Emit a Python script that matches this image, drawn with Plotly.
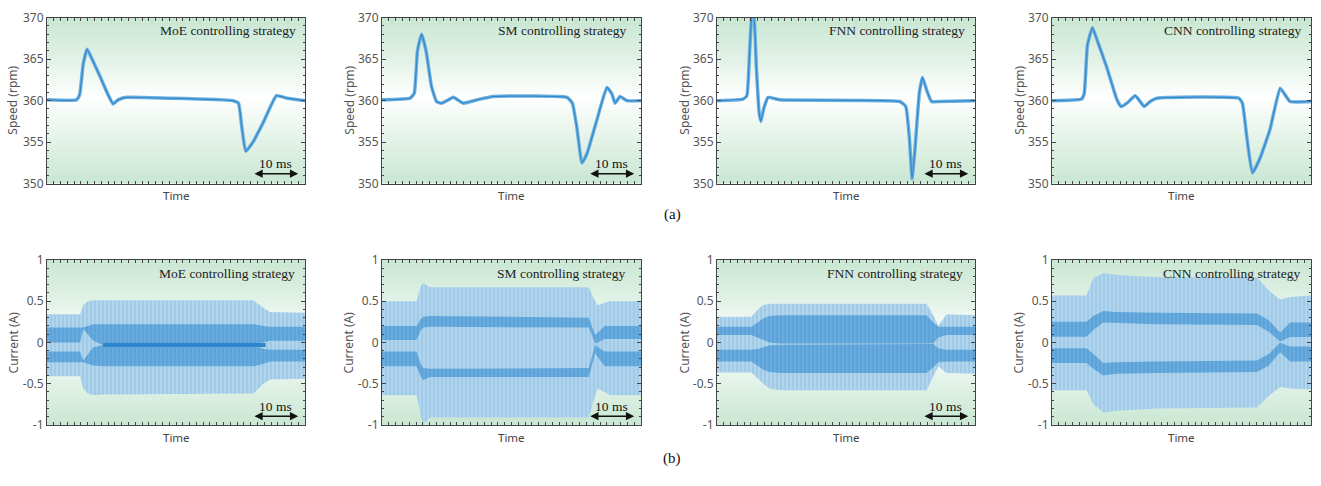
import plotly.graph_objects as go

W, H = 1321, 486
T_END = 57.0

strategies = ["MoE", "SM", "FNN", "CNN"]

# ---------------- Speed (rpm) data ----------------
moe_speed_t = [0, 6.5, 7.2, 8.0, 8.85, 9.8, 11.65, 13.5, 14.6, 15.7, 17.5, 26.4, 41.1, 42.3, 43.0, 43.9, 45.6, 47.8, 50.7, 53.0, 57]
moe_speed_v = [360.1, 360.1, 360.7, 364.4, 366.2, 365.2, 363.0, 360.7, 359.6, 360.1, 360.4, 360.3, 360.0, 359.7, 357.0, 353.9, 355.1, 357.4, 360.6, 360.3, 360.0]

sm_speed_t = [0, 6.2, 7.1, 7.8, 8.7, 9.7, 10.9, 12.0, 13.1, 14.6, 15.7, 17.9, 20.9, 24.5, 40.7, 41.9, 42.9, 44.0, 45.1, 47.3, 49.5, 50.6, 51.3, 52.4, 53.9, 57]
sm_speed_v = [360.1, 360.3, 360.9, 366.0, 368.0, 366.0, 361.7, 359.9, 359.7, 360.1, 360.4, 359.7, 360.1, 360.5, 360.4, 359.7, 356.7, 352.5, 353.6, 357.7, 361.6, 360.8, 359.7, 360.5, 360.0, 360.0]

fnn_speed_t = [0, 5.75, 6.6, 7.2, 7.7, 8.1, 8.7, 9.3, 9.7, 10.3, 11.3, 13.9, 40.4, 41.7, 42.5, 43.1, 43.7, 44.7, 45.4, 46.3, 47.4, 49.3, 57]
fnn_speed_v = [360.0, 360.2, 360.6, 365.9, 370.2, 370.5, 364.0, 358.6, 357.5, 359.0, 360.4, 360.1, 359.9, 359.3, 355.5, 350.6, 353.9, 360.9, 362.8, 361.3, 359.9, 359.9, 360.0]

cnn_speed_t = [0, 6.5, 7.1, 7.8, 8.9, 9.8, 12.0, 14.3, 15.2, 16.5, 18.3, 19.4, 20.3, 21.6, 23.1, 41.1, 41.9, 42.9, 44.1, 45.8, 48.0, 50.2, 51.3, 52.4, 57]
cnn_speed_v = [360.0, 360.2, 360.9, 366.7, 368.8, 367.5, 364.1, 360.1, 359.3, 359.7, 360.6, 359.9, 359.3, 359.9, 360.3, 360.3, 359.7, 355.5, 351.3, 353.1, 356.6, 361.5, 360.7, 359.9, 359.9]

speed_t = [moe_speed_t, sm_speed_t, fnn_speed_t, cnn_speed_t]
speed_v = [moe_speed_v, sm_speed_v, fnn_speed_v, cnn_speed_v]

# ---------------- Current (A) envelopes ----------------
moe_cur_t = [0, 7.3, 8.0, 9.0, 10.2, 12.4, 45.6, 47.8, 49.3, 57]
moe_outer_hi = [0.34, 0.34, 0.45, 0.50, 0.51, 0.51, 0.51, 0.42, 0.37, 0.36]
moe_outer_lo = [-0.41, -0.41, -0.56, -0.62, -0.64, -0.63, -0.62, -0.50, -0.45, -0.44]
moe_band_hi = [0.18, 0.18, 0.18, 0.20, 0.22, 0.22, 0.22, 0.20, 0.19, 0.19]
moe_gap_hi = [0.0, 0.0, 0.16, 0.10, 0.02, -0.03, -0.03, 0.0, 0.02, 0.02]
moe_gap_lo = [-0.11, -0.11, -0.22, -0.15, -0.06, -0.03, -0.03, -0.08, -0.09, -0.09]
moe_band_lo = [-0.24, -0.24, -0.24, -0.26, -0.28, -0.29, -0.29, -0.26, -0.23, -0.23]

sm_cur_t = [0, 7.6, 8.5, 9.1, 10.5, 45.5, 46.9, 47.5, 49.0, 50.2, 57]
sm_outer_hi = [0.50, 0.50, 0.68, 0.72, 0.67, 0.67, 0.50, 0.45, 0.48, 0.50, 0.50]
sm_outer_lo = [-0.64, -0.64, -0.88, -0.99, -0.91, -0.91, -0.65, -0.56, -0.60, -0.64, -0.64]
sm_band_hi = [0.20, 0.20, 0.28, 0.31, 0.32, 0.30, 0.09, 0.12, 0.20, 0.20, 0.20]
sm_gap_hi = [0.03, 0.03, 0.14, 0.18, 0.19, 0.18, -0.01, 0.0, 0.04, 0.04, 0.04]
sm_gap_lo = [-0.11, -0.11, -0.26, -0.31, -0.32, -0.31, -0.03, -0.05, -0.11, -0.11, -0.11]
sm_band_lo = [-0.29, -0.29, -0.41, -0.46, -0.42, -0.42, -0.13, -0.18, -0.29, -0.29, -0.29]

fnn_cur_t = [0, 7.6, 9.0, 10.2, 11.6, 13.9, 46.3, 47.8, 48.9, 50.7, 57]
fnn_outer_hi = [0.31, 0.31, 0.40, 0.455, 0.47, 0.47, 0.47, 0.33, 0.20, 0.34, 0.33]
fnn_outer_lo = [-0.365, -0.365, -0.44, -0.50, -0.56, -0.58, -0.58, -0.42, -0.29, -0.37, -0.38]
fnn_band_hi = [0.19, 0.19, 0.24, 0.29, 0.32, 0.33, 0.33, 0.24, 0.19, 0.19, 0.19]
fnn_gap_hi = [0.09, 0.09, 0.06, 0.03, 0.0, -0.012, -0.012, -0.01, 0.06, 0.09, 0.09]
fnn_gap_lo = [-0.09, -0.09, -0.08, -0.06, -0.035, -0.028, -0.028, -0.02, -0.07, -0.09, -0.09]
fnn_band_lo = [-0.23, -0.23, -0.28, -0.33, -0.36, -0.37, -0.37, -0.30, -0.24, -0.23, -0.23]

cnn_cur_t = [0, 7.6, 9.1, 11.3, 14, 23, 45.1, 47.7, 50.2, 52.4, 57]
cnn_outer_hi = [0.57, 0.57, 0.78, 0.84, 0.82, 0.79, 0.79, 0.63, 0.52, 0.55, 0.57]
cnn_outer_lo = [-0.58, -0.58, -0.75, -0.85, -0.83, -0.80, -0.79, -0.65, -0.54, -0.56, -0.57]
cnn_band_hi = [0.25, 0.25, 0.32, 0.38, 0.37, 0.36, 0.35, 0.27, 0.12, 0.24, 0.24]
cnn_gap_hi = [0.07, 0.07, 0.15, 0.24, 0.23, 0.22, 0.21, 0.13, 0.01, 0.065, 0.065]
cnn_gap_lo = [-0.07, -0.07, -0.14, -0.25, -0.24, -0.23, -0.22, -0.14, -0.005, -0.05, -0.05]
cnn_band_lo = [-0.25, -0.25, -0.32, -0.40, -0.38, -0.37, -0.36, -0.28, -0.12, -0.23, -0.23]

# MoE dark centre line (steady load region)
moe_center_t = [12.4, 46.5, 48.3]
moe_center_v = [-0.03, -0.03, -0.03]

cur_t = [moe_cur_t, sm_cur_t, fnn_cur_t, cnn_cur_t]
cur_outer_hi = [moe_outer_hi, sm_outer_hi, fnn_outer_hi, cnn_outer_hi]
cur_outer_lo = [moe_outer_lo, sm_outer_lo, fnn_outer_lo, cnn_outer_lo]
cur_band_hi = [moe_band_hi, sm_band_hi, fnn_band_hi, cnn_band_hi]
cur_gap_hi = [moe_gap_hi, sm_gap_hi, fnn_gap_hi, cnn_gap_hi]
cur_gap_lo = [moe_gap_lo, sm_gap_lo, fnn_gap_lo, cnn_gap_lo]
cur_band_lo = [moe_band_lo, sm_band_lo, fnn_band_lo, cnn_band_lo]

speed_ticks = [350, 355, 360, 365, 370]
current_ticks = [-1, -0.5, 0, 0.5, 1]
current_ticktext = ["-1", "-0.5", "0", "0.5", "1"]

# scale bar (10 ms)
bar_start, bar_end = 45.5, 55.5

# ---------------- layout geometry (pixels) ----------------
col_px = [(47, 305), (382, 641), (717, 975), (1052, 1311)]
row_px = [(9, 181), (260, 431)]
ytitle_px = [[13, 350, 685, 1020], [13, 348, 684, 1018]]
label_x = [[0.973, 0.95, 0.969, 0.969], [0.969, 0.946, 0.961, 0.965]]

BG_GREEN = "#c9e7d3"
LINE_DARK = "#3189cc"
LINE_LIGHT = "#6fb0e0"
AX = "#444444"
TICKFONT = dict(family="Noto Sans", size=12, color="#555555")
SERIF = "Liberation Serif"

fig = go.Figure()
layout = dict(width=W, height=H, margin=dict(l=0, r=0, t=0, b=0),
              paper_bgcolor="white", plot_bgcolor="white", showlegend=False)
annotations = []

bg_scale = [[0, "#ffffff"], [0.35, "#edf7f0"], [1, BG_GREEN]]

for r in range(2):
    for c in range(4):
        k = r * 4 + c + 1
        xa = "x" if k == 1 else f"x{k}"
        ya = "y" if k == 1 else f"y{k}"
        xl = "xaxis" if k == 1 else f"xaxis{k}"
        yl = "yaxis" if k == 1 else f"yaxis{k}"
        x0, x1 = col_px[c]
        y0, y1 = row_px[r]
        xdom = [x0 / W, x1 / W]
        ydom = [1 - y1 / H, 1 - y0 / H]

        if r == 0:
            yr = [350, 370]
            bg_y = [350, 355, 360.5, 365, 370]
            ytv, ytt = speed_ticks, [str(v) for v in speed_ticks]
            minor_dt = 1
            ytitle = "Speed (rpm)"
        else:
            yr = [-1, 1]
            bg_y = [-1, -0.5, 0.05, 0.5, 1]
            ytv, ytt = current_ticks, current_ticktext
            minor_dt = 0.1
            ytitle = "Current (A)"

        # gradient background
        fig.add_trace(go.Heatmap(x=[0, T_END], y=bg_y,
                                 z=[[1, 1], [0.55, 0.55], [0, 0], [0.55, 0.55], [1, 1]],
                                 zmin=0, zmax=1, colorscale=bg_scale, zsmooth="best",
                                 showscale=False, hoverinfo="skip", xaxis=xa, yaxis=ya))

        if r == 0:
            t, v = speed_t[c], speed_v[c]
            fig.add_trace(go.Scatter(x=t, y=v, mode="lines",
                                     line=dict(color=LINE_LIGHT, width=3.5, shape="spline", smoothing=0.4),
                                     hoverinfo="skip", xaxis=xa, yaxis=ya))
            fig.add_trace(go.Scatter(x=t, y=v, mode="lines",
                                     line=dict(color=LINE_DARK, width=1.2, shape="spline", smoothing=0.4),
                                     xaxis=xa, yaxis=ya))
        else:
            t = cur_t[c]
            rev = t[::-1]
            fig.add_trace(go.Scatter(
                x=t + rev, y=cur_outer_hi[c] + cur_outer_lo[c][::-1], mode="lines",
                fill="toself", line=dict(width=0, color="#a3cde9"), fillcolor="#a3cde9",
                fillpattern=dict(shape="|", size=4, solidity=0.35, fgcolor="#d2e8f5", bgcolor="#a0cbe8"),
                hoverinfo="skip", xaxis=xa, yaxis=ya))
            fig.add_trace(go.Scatter(
                x=t + rev, y=cur_band_hi[c] + cur_gap_hi[c][::-1], mode="lines",
                fill="toself", line=dict(width=0, color="#5fa6da"), fillcolor="#5fa6da",
                fillpattern=dict(shape="|", size=4, solidity=0.3, fgcolor="#84bce4", bgcolor="#5ba3d9"),
                hoverinfo="skip", xaxis=xa, yaxis=ya))
            fig.add_trace(go.Scatter(
                x=t + rev, y=cur_gap_lo[c] + cur_band_lo[c][::-1], mode="lines",
                fill="toself", line=dict(width=0, color="#5fa6da"), fillcolor="#5fa6da",
                fillpattern=dict(shape="|", size=4, solidity=0.3, fgcolor="#84bce4", bgcolor="#5ba3d9"),
                hoverinfo="skip", xaxis=xa, yaxis=ya))
            if c == 0:
                fig.add_trace(go.Scatter(x=moe_center_t, y=moe_center_v, mode="lines",
                                         line=dict(color="#2f86cc", width=4),
                                         hoverinfo="skip", xaxis=xa, yaxis=ya))

        layout[xl] = dict(domain=xdom, range=[0, T_END], anchor=ya, showticklabels=False,
                          showline=True, linecolor=AX, linewidth=1, mirror="allticks",
                          ticks="inside", ticklen=3, tickcolor=AX, tick0=0, dtick=1.5,
                          showgrid=False, zeroline=False, fixedrange=True)
        layout[yl] = dict(domain=ydom, range=yr, anchor=xa, tickmode="array",
                          tickvals=ytv, ticktext=ytt, tickfont=TICKFONT,
                          showline=True, linecolor=AX, linewidth=1, mirror="allticks",
                          ticks="inside", ticklen=4, tickcolor=AX,
                          minor=dict(ticks="inside", ticklen=2, dtick=minor_dt, tickcolor=AX),
                          showgrid=False, zeroline=False, fixedrange=True)

        # strategy label
        annotations.append(dict(text=f"{strategies[c]} controlling strategy",
                                xref=f"{xa} domain", yref=f"{ya} domain",
                                x=label_x[r][c], y=0.925 if r == 0 else 0.918,
                                xanchor="right", yanchor="middle", showarrow=False,
                                font=dict(family=SERIF, size=13.5, color="#222222")))
        # Time label
        annotations.append(dict(text="Time", xref="paper", yref="paper",
                                x=(x0 + x1) / 2 / W, y=1 - (193 if r == 0 else 444) / H,
                                xanchor="center", yanchor="middle", showarrow=False,
                                font=dict(family="Noto Sans", size=11.5, color="#444444")))
        # y-axis title
        annotations.append(dict(text=ytitle, xref="paper", yref="paper",
                                x=ytitle_px[r][c] / W, y=1 - ((y0 + y1) / 2) / H,
                                xanchor="center", yanchor="middle", textangle=-90, showarrow=False,
                                font=dict(family="Noto Sans", size=12, color="#555555")))
        # 10 ms scale bar (not on CNN)
        if c < 3:
            bar_y = 351.2 if r == 0 else -0.894
            txt_y = 0.122 if r == 0 else 0.111
            annotations.append(dict(text="10 ms", xref=xa, yref=f"{ya} domain",
                                    x=(bar_start + bar_end) / 2, y=txt_y,
                                    xanchor="center", yanchor="middle", showarrow=False,
                                    font=dict(family=SERIF, size=13.5, color="#111111")))
            annotations.append(dict(text="", xref=xa, yref=ya, x=bar_end, y=bar_y,
                                    axref=xa, ayref=ya, ax=bar_start, ay=bar_y,
                                    showarrow=True, arrowhead=2, startarrowhead=2,
                                    arrowside="end+start", arrowsize=1.1, startarrowsize=1.1,
                                    arrowwidth=1.5, arrowcolor="#111111"))

annotations.append(dict(text="(a)", xref="paper", yref="paper", x=672 / W, y=1 - 213 / H,
                        xanchor="center", yanchor="middle", showarrow=False,
                        font=dict(family=SERIF, size=15, color="#111111")))
annotations.append(dict(text="(b)", xref="paper", yref="paper", x=672 / W, y=1 - 466 / H,
                        xanchor="center", yanchor="middle", showarrow=False,
                        font=dict(family=SERIF, size=15, color="#111111")))

layout["annotations"] = annotations
fig.update_layout(**layout)
fig.write_html("out.html", config={"displayModeBar": False},
               post_script="document.body.style.margin='0px';")
